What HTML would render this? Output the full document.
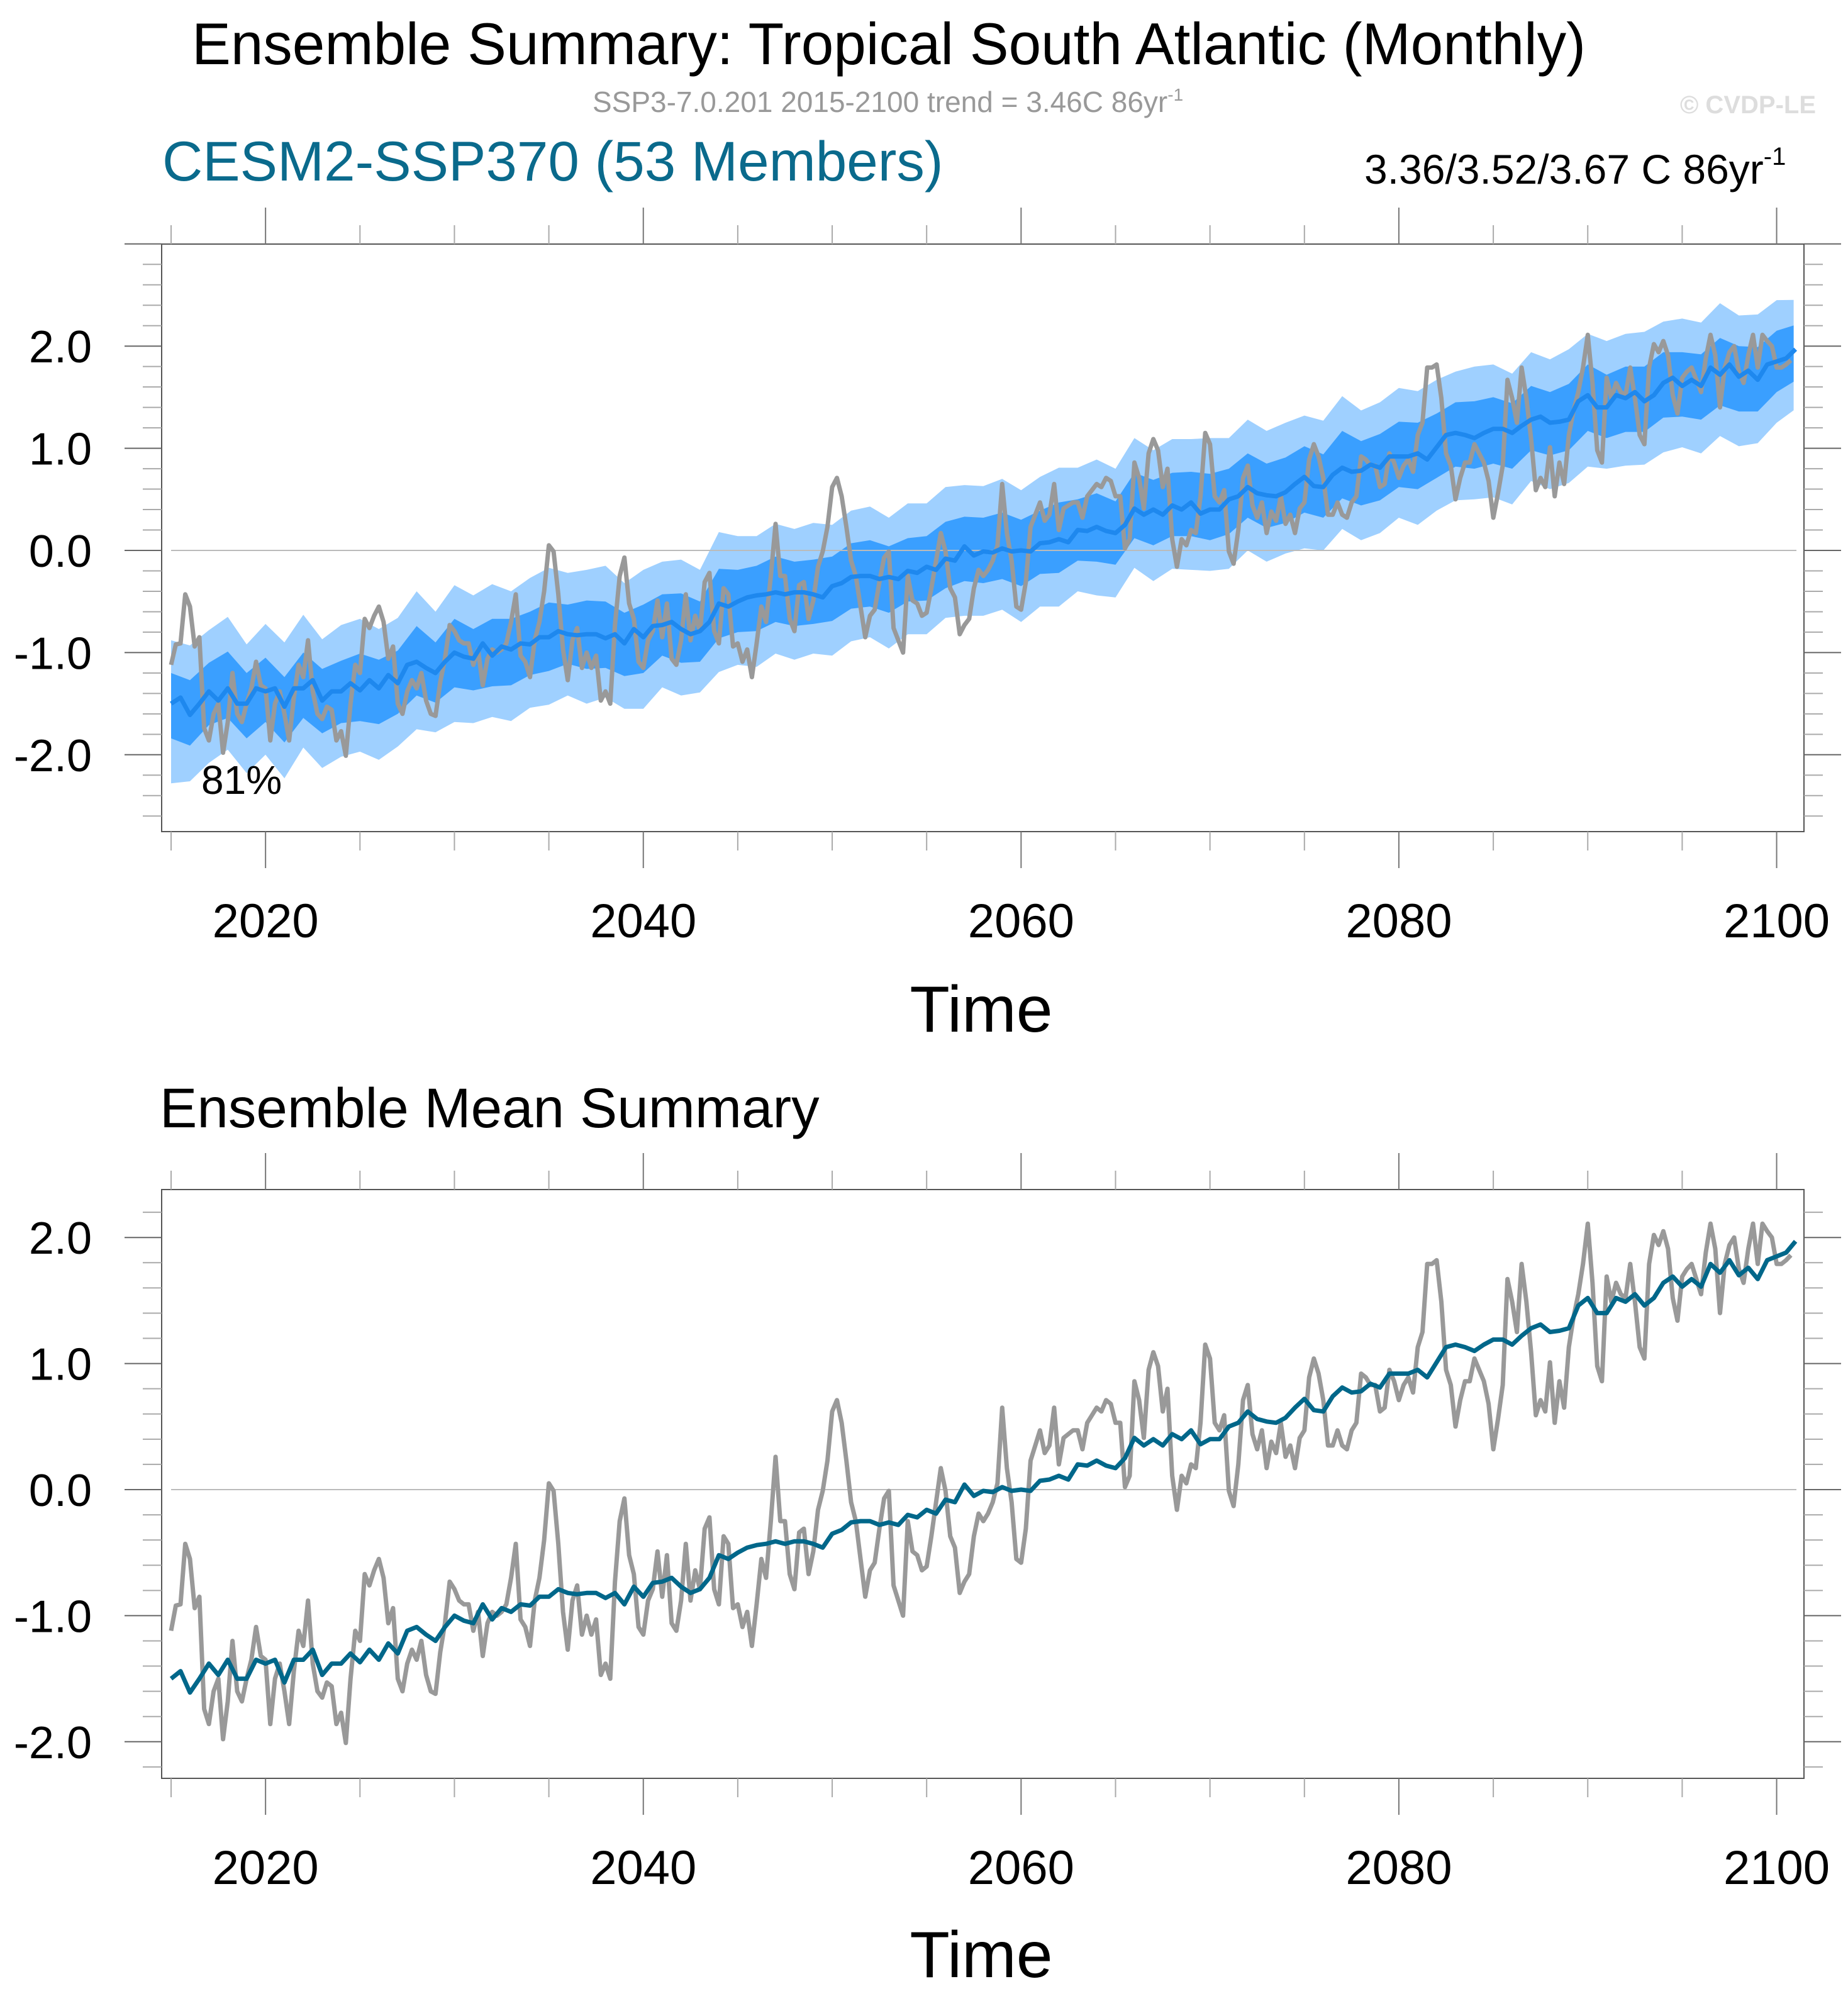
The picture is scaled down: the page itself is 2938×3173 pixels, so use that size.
<!DOCTYPE html>
<html><head><meta charset="utf-8"><style>
html,body{margin:0;padding:0;background:#fff;}
svg{display:block;font-family:"Liberation Sans",Arial,sans-serif;}
</style></head><body>
<svg id="chart" xmlns="http://www.w3.org/2000/svg" width="2938" height="3173" viewBox="0 0 2938 3173">
<text x="305" y="102" font-size="94" textLength="2216" lengthAdjust="spacingAndGlyphs" fill="#000">Ensemble Summary: Tropical South Atlantic (Monthly)</text>
<text x="942" y="178" font-size="46" fill="#999">SSP3-7.0.201 2015-2100 trend = 3.46C 86yr<tspan dy="-18" font-size="28">-1</tspan></text>
<text x="2887" y="180" font-size="40" font-weight="bold" text-anchor="end" fill="#ddd">© CVDP-LE</text>
<text x="258" y="287" font-size="89" fill="#0a6a8c">CESM2-SSP370 (53 Members)</text>
<text x="2169" y="292" font-size="66" fill="#000">3.36/3.52/3.67 C 86yr<tspan dy="-30" font-size="40">-1</tspan></text>
<text x="254" y="1792" font-size="89" fill="#000">Ensemble Mean Summary</text>
<g id="top"></g>
<g id="bottom"></g>
</svg>
<script>
// Quarterly values of one member (grey), starting 2015.0
const grayYears0 = 2015.0;
const grayStep = 0.25;
const grayValues = [
-1.12,-0.92,-0.91,-0.43,-0.55,-0.94,-0.85,-1.74,-1.86,-1.6,-1.5,-1.98,-1.68,-1.2,-1.6,-1.68,-1.5,-1.35,-1.09,-1.32,
-1.35,-1.86,-1.5,-1.38,-1.6,-1.86,-1.44,-1.12,-1.24,-0.88,-1.38,-1.6,-1.65,-1.53,-1.56,-1.86,-1.77,-2.01,-1.5,-1.12,
-1.2,-0.67,-0.76,-0.64,-0.55,-0.7,-1.06,-0.94,-1.5,-1.6,-1.38,-1.27,-1.35,-1.2,-1.47,-1.6,-1.62,-1.29,-1.06,-0.73,
-0.79,-0.88,-0.91,-0.91,-1.12,-0.97,-1.32,-1.06,-0.97,-1.0,-0.97,-0.91,-0.7,-0.43,-1.03,-1.09,-1.24,-0.88,-0.7,-0.40,
0.05,-0.01,-0.43,-0.97,-1.27,-0.88,
-0.76,-1.15,-1.0,-1.15,-1.03,-1.47,-1.38,-1.5,-0.73,-0.25,-0.07,-0.52,-0.67,-1.09,-1.15,-0.88,-0.79,-0.49,-0.85,-0.52,
-1.06,-1.12,-0.88,-0.43,-0.88,-0.64,-0.79,-0.31,-0.22,-0.79,-0.91,-0.37,-0.43,-0.94,-0.91,-1.09,-0.97,-1.24,-0.91,-0.55,
-0.7,-0.25,0.26,-0.25,-0.25,-0.67,-0.79,-0.34,-0.31,-0.67,-0.49,-0.16,-0.01,0.23,0.62,0.71,0.53,0.23,-0.1,-0.25,
-0.55,-0.85,-0.64,-0.58,-0.31,-0.07,-0.01,-0.76,-0.88,-1.0,-0.25,-0.49,-0.52,-0.64,-0.61,-0.37,-0.1,0.17,-0.01,-0.37,
-0.46,-0.82,-0.73,-0.67,-0.37,-0.19,
-0.25,-0.19,-0.1,0.05,0.65,0.17,-0.1,-0.55,-0.58,-0.31,0.23,0.35,0.47,0.29,0.35,0.65,0.2,0.41,0.44,0.47,
0.47,0.32,0.53,0.59,0.65,0.62,0.71,0.68,0.53,0.53,0.02,0.11,0.86,0.71,0.41,0.95,1.09,0.98,0.62,0.8,
0.11,-0.16,0.11,0.05,0.2,0.17,0.53,1.15,1.04,0.53,0.47,0.59,-0.01,-0.13,0.2,0.71,0.83,0.44,0.32,0.47,
0.17,0.38,0.29,0.53,0.26,0.35,0.17,0.41,0.47,0.89,1.04,0.92,0.71,0.35,0.35,0.47,0.35,0.32,0.47,0.53,
0.92,0.89,0.83,0.83,0.62,
0.65,0.95,0.86,0.71,0.83,0.89,0.77,1.13,1.25,1.79,1.79,1.82,1.49,0.95,0.83,0.5,0.71,0.86,0.86,1.04,
0.95,0.86,0.68,0.32,0.56,0.83,1.67,1.49,1.25,1.79,1.49,1.09,0.59,0.71,0.62,1.01,0.53,0.86,0.65,1.13,
1.37,1.55,1.79,2.11,1.64,0.98,0.86,1.69,1.49,1.64,1.55,1.52,1.79,1.49,1.13,1.04,1.79,2.02,1.94,2.05,
1.91,1.52,1.34,1.69,1.75,1.79,1.67,1.55,1.88,2.11,1.91,1.4,1.79,1.94,2.0,1.75,1.64,1.91,2.11,1.79,
2.11,2.05,2.0,1.79,1.79,1.82,1.86
];
// Half-yearly ensemble mean values, starting 2015.0
const meanYears0 = 2015.0;
const meanStep = 0.5;
const meanValues = [
-1.5,-1.44,-1.61,-1.5,-1.38,-1.47,-1.35,-1.5,-1.5,-1.35,-1.38,-1.35,-1.53,-1.35,-1.35,-1.27,-1.47,-1.38,-1.38,-1.3,
-1.37,-1.27,-1.35,-1.22,-1.3,-1.12,-1.09,-1.15,-1.2,-1.09,-1.0,-1.04,-1.06,-0.91,-1.03,-0.94,-0.97,-0.91,-0.92,-0.85,
-0.85,-0.79,-0.82,
-0.83,-0.82,-0.82,-0.86,-0.82,-0.91,-0.77,-0.85,-0.74,-0.73,-0.7,-0.77,-0.82,-0.79,-0.70,-0.52,-0.55,-0.5,-0.46,-0.44,
-0.43,-0.41,-0.43,-0.41,-0.41,-0.43,-0.46,-0.35,-0.32,-0.26,-0.25,-0.25,-0.28,-0.26,-0.28,-0.2,-0.22,-0.16,-0.19,-0.08,
-0.1,0.04,-0.05,
-0.01,-0.02,0.02,-0.01,0.0,-0.01,0.07,0.08,0.11,0.08,0.2,0.19,0.23,0.19,0.17,0.25,0.41,0.35,0.4,0.35,
0.44,0.4,0.47,0.36,0.4,0.4,0.5,0.53,0.62,0.56,0.54,0.53,0.57,0.65,0.72,0.63,0.62,0.74,0.81,0.77,
0.78,0.84,0.81,
0.92,0.92,0.92,0.95,0.89,1.01,1.13,1.15,1.13,1.1,1.15,1.19,1.19,1.15,1.22,1.28,1.31,1.25,1.26,1.28,
1.46,1.52,1.4,1.4,1.52,1.49,1.55,1.46,1.52,1.64,1.69,1.61,1.67,1.61,1.79,1.72,1.82,1.70,1.76,1.67,
1.82,1.85,1.88,1.97
];
// Yearly band offsets relative to ensemble mean (light = outer, dark = inner), starting 2015
const bandYears0 = 2015;
const outerUp = [0.62,0.68,0.6,0.7,0.58,0.66,0.63,0.72,0.6,0.65,0.7,0.58,0.64,0.69,0.6,0.66,0.62,0.7,0.57,0.65,0.68,0.6,0.63,0.71,0.59,0.66,0.62,0.68,0.6,0.7,
0.64,0.58,0.67,0.62,0.7,0.6,0.65,0.68,0.58,0.66,0.62,0.7,0.6,0.64,0.68,0.59,0.65,0.7,0.61,0.66,0.63,0.69,0.58,0.65,0.62,0.7,0.6,0.66,0.63,0.68,
0.6,0.65,0.7,0.59,0.64,0.67,0.61,0.66,0.6,0.7,0.63,0.58,0.66,0.62,0.69,0.6,0.65,0.63,0.68,0.6,0.66,0.62,0.7,0.6,0.64,0.6,0.5];
const outerDn = [0.78,0.65,0.7,0.6,0.68,0.62,0.7,0.58,0.66,0.64,0.6,0.7,0.62,0.66,0.58,0.68,0.63,0.6,0.7,0.62,0.66,0.6,0.68,0.58,0.64,0.7,0.61,0.65,0.6,0.67,
0.62,0.7,0.6,0.66,0.58,0.68,0.63,0.6,0.7,0.62,0.66,0.58,0.68,0.63,0.6,0.7,0.62,0.66,0.6,0.67,0.63,0.58,0.7,0.62,0.66,0.6,0.68,0.62,0.65,0.6,
0.7,0.62,0.6,0.68,0.64,0.6,0.7,0.62,0.66,0.6,0.67,0.7,0.6,0.65,0.62,0.7,0.6,0.66,0.62,0.68,0.6,0.66,0.6,0.68,0.62,0.6,0.58];
const innerUp = [0.3,0.34,0.28,0.36,0.3,0.33,0.29,0.35,0.31,0.3,0.36,0.28,0.32,0.35,0.3,0.33,0.29,0.36,0.3,0.32,0.34,0.29,0.33,0.36,0.3,0.32,0.3,0.35,0.29,0.34,
0.31,0.29,0.35,0.3,0.34,0.29,0.33,0.35,0.3,0.32,0.3,0.36,0.29,0.33,0.35,0.3,0.32,0.36,0.3,0.33,0.31,0.35,0.29,0.32,0.3,0.35,0.3,0.33,0.31,0.34,
0.3,0.32,0.36,0.29,0.33,0.34,0.3,0.33,0.3,0.36,0.31,0.29,0.33,0.3,0.35,0.3,0.32,0.31,0.34,0.3,0.33,0.31,0.36,0.3,0.32,0.3,0.25];
const innerDn = [0.34,0.3,0.33,0.29,0.34,0.3,0.35,0.29,0.32,0.31,0.3,0.35,0.3,0.33,0.29,0.34,0.31,0.3,0.35,0.3,0.33,0.29,0.34,0.29,0.32,0.35,0.3,0.33,0.3,0.34,
0.3,0.35,0.29,0.33,0.29,0.34,0.31,0.3,0.35,0.3,0.33,0.29,0.34,0.31,0.3,0.35,0.3,0.33,0.3,0.34,0.31,0.29,0.35,0.3,0.33,0.3,0.34,0.3,0.32,0.3,
0.35,0.3,0.3,0.34,0.32,0.3,0.35,0.3,0.33,0.3,0.34,0.35,0.3,0.32,0.3,0.35,0.3,0.33,0.3,0.34,0.3,0.33,0.3,0.34,0.31,0.3,0.3];
const xTickYears = [2020,2040,2060,2080,2100];
const xTickLabels = ["2020","2040","2060","2080","2100"];
const yTickValues = [2,1,0,-1,-2];
const yTickLabels = ["2.0","1.0","0.0","-1.0","-2.0"];

const NS = "http://www.w3.org/2000/svg";
function mk(parent, tag, attrs){const e=document.createElementNS(NS,tag);for(const k in attrs)e.setAttribute(k,attrs[k]);parent.appendChild(e);return e;}
const xScale = yr => 272 + (yr - 2015) * 30.03;
const panels = {
  top:{left:257,right:2868,top:388,bottom:1322,zeroY:875,ppu:162.4,vmin:-2.75,vmax:3.0,labelY:1490,timeY:1640},
  bottom:{left:257,right:2868,top:1891,bottom:2827,zeroY:2368,ppu:200.4,vmin:-2.29,vmax:2.38,labelY:2995,timeY:3143}
};
function interpMean(t){const f=(t-meanYears0)/meanStep;const i=Math.max(0,Math.min(meanValues.length-2,Math.floor(f)));const r=f-i;return meanValues[i]*(1-r)+meanValues[i+1]*r;}
function drawAxes(g,p,name){
  const yS=v=>p.zeroY-v*p.ppu;
  const frame=mk(g,'rect',{x:p.left,y:p.top,width:p.right-p.left,height:p.bottom-p.top,fill:'none',stroke:'#555','stroke-width':2});
  
  
  const zero=mk(g,'line',{x1:272,x2:p.right-12,y1:yS(0),y2:yS(0),stroke:'#bbb','stroke-width':2});
  
  
  for(let yr=2015;yr<=2100;yr+=5){
    const major=yr%20===0;const L=major?58:30;const x=xScale(yr);
    const t1=mk(g,'line',{x1:x,x2:x,y1:p.top,y2:p.top-L,stroke:major?'#777':'#aaa','stroke-width':2});
    
    
    const t2=mk(g,'line',{x1:x,x2:x,y1:p.bottom,y2:p.bottom+L,stroke:major?'#777':'#aaa','stroke-width':2});
    
    
  }
  for(let k=Math.ceil(p.vmin*5);k<=Math.floor(p.vmax*5);k++){
    const v=k/5;const major=k%5===0;const L=major?59:30;const y=yS(v);
    const a=mk(g,'line',{x1:p.left-L,x2:p.left,y1:y,y2:y,stroke:major?'#666':'#aaa','stroke-width':2});
    
    
    const b=mk(g,'line',{x1:p.right,x2:p.right+L,y1:y,y2:y,stroke:major?'#666':'#aaa','stroke-width':2});
    
    
  }
  xTickYears.forEach((yr,i)=>{
    const t=mk(g,'text',{x:xScale(yr),y:p.labelY,'font-size':76,'text-anchor':'middle',fill:'#000'});
    t.textContent=xTickLabels[i];
    
    
  });
  yTickValues.forEach((v,i)=>{
    const t=mk(g,'text',{x:146,y:yS(v)+26,'font-size':72,'text-anchor':'end',fill:'#000'});
    t.textContent=yTickLabels[i];
    
    
  });
  const tt=mk(g,'text',{x:1560,y:p.timeY,'font-size':104,'text-anchor':'middle',fill:'#000'});
  tt.textContent='Time';
  
  
  return yS;
}
function linePath(years0,step,vals,yS){return vals.map((v,i)=>(i?'L':'M')+xScale(years0+i*step).toFixed(1)+','+yS(v).toFixed(1)).join('');}
function bandPath(up,dn,yS){
  const n=up.length;let d='';
  const tt=i=>Math.min(bandYears0+i,2100.9);
  for(let i=0;i<n;i++){const t=tt(i);const m=interpMean(t);d+=(i?'L':'M')+xScale(t).toFixed(1)+','+yS(m+up[i]).toFixed(1);}
  for(let i=n-1;i>=0;i--){const t=tt(i);const m=interpMean(t);d+='L'+xScale(t).toFixed(1)+','+yS(m-dn[i]).toFixed(1);}
  return d+'Z';
}
// top panel
const gt=document.getElementById('top');
const pT=panels.top;
const ySt=v=>pT.zeroY-v*pT.ppu;
const ob=mk(gt,'path',{d:bandPath(outerUp,outerDn,ySt),fill:'#9fd0ff',stroke:'none'});


const ib=mk(gt,'path',{d:bandPath(innerUp,innerDn,ySt),fill:'#3a9fff',stroke:'none'});


drawAxes(gt,pT,'top');
const g1=mk(gt,'path',{d:linePath(grayYears0,grayStep,grayValues,ySt),fill:'none',stroke:'#999','stroke-width':7,'stroke-linejoin':'round'});


const m1=mk(gt,'path',{d:linePath(meanYears0,meanStep,meanValues,ySt),fill:'none',stroke:'#1e88ee','stroke-width':7,'stroke-linejoin':'round'});


const pct=mk(gt,'text',{x:320,y:1262,'font-size':64,fill:'#000'});
pct.textContent='81%';


// bottom panel
const gb=document.getElementById('bottom');
const pB=panels.bottom;
const ySb=drawAxes(gb,pB,'bottom');
const g2=mk(gb,'path',{d:linePath(grayYears0,grayStep,grayValues,ySb),fill:'none',stroke:'#999','stroke-width':7,'stroke-linejoin':'round'});


const m2=mk(gb,'path',{d:linePath(meanYears0,meanStep,meanValues,ySb),fill:'none',stroke:'#00678a','stroke-width':7,'stroke-linejoin':'round'});


</script>
</body></html>
